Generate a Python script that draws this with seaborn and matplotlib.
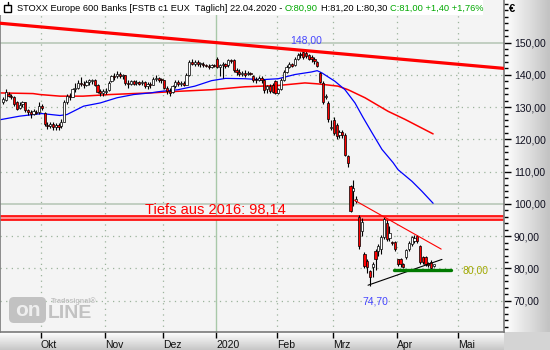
import numpy as np
import pandas as pd
import matplotlib
matplotlib.use("Agg")
import matplotlib.pyplot as plt
import seaborn as sns
from matplotlib.patches import Rectangle, FancyBboxPatch
from matplotlib.ticker import MultipleLocator, FuncFormatter

# ---------------- data ----------------
opens = [131.5, 132.3, 134.0, 133.5, 133.0, 131.5, 129.8, 131.0, 131.5, 129.0,
         128.5, 128.0, 128.6, 128.5, 130.3, 128.3, 124.5, 124.0, 124.8, 123.8,
         124.5, 124.0, 125.5, 131.5, 133.5, 133.2, 135.5, 136.0, 137.5, 137.3,
         137.0, 137.8, 138.0, 138.3, 137.0, 135.0, 134.5, 134.8, 135.2, 138.0,
         139.5, 139.5, 140.3, 139.5, 139.8, 137.5, 137.2, 138.0, 137.5, 137.8,
         137.5, 137.8, 136.5, 137.3, 137.0, 138.7, 138.9, 138.7, 138.3, 136.0,
         135.0, 134.8, 136.5, 137.8, 137.2, 137.5, 137.0, 139.8, 144.0, 143.5,
         144.0, 143.3, 143.5, 143.0, 142.8, 142.5, 143.0, 145.0, 142.5, 143.0,
         143.3, 143.0, 144.5, 144.7, 141.5, 141.0, 140.2, 140.5, 140.2, 140.5,
         139.5, 138.8, 138.5, 139.0, 138.5, 135.5, 136.5, 136.8, 138.0, 134.5,
         135.5, 138.5, 141.0, 142.5, 143.3, 143.0, 145.0, 146.5, 147.2, 146.8,
         146.0, 145.5, 145.0, 144.0, 140.7, 137.6, 133.0, 131.4, 123.5, 126.0,
         124.5, 121.5, 122.3, 121.5, 114.7, 105.4, 104.0, 101.0, 95.8, 91.5,
         84.4, 82.2, 79.1, 80.5, 85.3, 85.3, 86.0, 89.6, 94.0, 89.5,
         88.0, 88.2, 82.8, 82.8, 81.5, 83.7, 86.0, 87.5, 88.5, 90.2,
         86.8, 83.5, 83.7, 81.5, 82.0, 80.9]
highs = [133.0, 135.5, 134.8, 134.0, 133.5, 131.8, 131.5, 132.0, 131.7, 129.5,
         129.0, 129.5, 129.0, 131.5, 131.0, 128.5, 125.5, 125.5, 125.3, 125.0,
         125.0, 126.2, 132.3, 134.0, 134.5, 136.0, 137.5, 138.5, 139.3, 138.0,
         138.3, 138.8, 138.7, 138.8, 137.3, 135.5, 135.5, 135.8, 138.0, 140.0,
         140.5, 141.2, 140.8, 140.3, 140.0, 138.3, 138.5, 138.5, 138.3, 138.2,
         138.5, 138.0, 137.8, 137.8, 139.2, 139.8, 139.3, 139.0, 138.5, 136.5,
         135.8, 137.0, 138.3, 138.3, 138.0, 138.0, 140.5, 144.5, 145.0, 144.5,
         144.5, 144.0, 144.0, 143.5, 143.5, 143.5, 143.3, 145.5, 143.5, 144.0,
         143.8, 145.0, 145.0, 145.0, 142.0, 141.8, 141.2, 141.5, 141.3, 141.0,
         139.8, 139.3, 139.5, 139.5, 138.8, 137.0, 137.2, 137.5, 138.5, 136.0,
         139.0, 141.5, 143.0, 144.0, 143.8, 145.5, 146.8, 147.0, 148.0, 147.3,
         146.5, 146.0, 145.5, 144.3, 141.0, 138.0, 134.0, 131.8, 126.0, 127.0,
         125.0, 123.0, 123.0, 122.0, 115.3, 106.0, 107.5, 102.5, 96.5, 95.5,
         85.0, 82.8, 79.5, 82.0, 86.0, 87.5, 90.5, 96.0, 95.0, 93.0,
         88.5, 88.5, 83.0, 83.2, 81.8, 86.0, 88.5, 90.0, 90.3, 90.5,
         87.3, 84.0, 84.0, 82.0, 82.5, 81.2]
lows = [131.0, 132.0, 133.0, 132.5, 130.5, 129.0, 129.3, 130.0, 128.5, 127.5,
        126.5, 127.5, 127.8, 128.0, 129.0, 124.0, 123.2, 123.5, 122.8, 123.0,
        123.0, 123.5, 125.3, 131.0, 132.3, 133.0, 134.8, 135.5, 136.5, 136.0,
        136.5, 137.0, 137.3, 136.5, 134.5, 133.5, 133.5, 134.0, 135.0, 137.8,
        138.5, 139.0, 139.0, 138.8, 137.0, 136.0, 136.8, 137.0, 137.0, 136.8,
        136.8, 135.8, 135.5, 136.0, 136.8, 138.2, 137.8, 137.5, 135.5, 134.0,
        133.5, 134.5, 136.0, 136.7, 136.5, 136.5, 136.8, 139.5, 143.0, 142.8,
        142.8, 142.5, 142.5, 142.3, 141.8, 142.0, 142.3, 142.0, 139.5, 139.0,
        142.0, 142.5, 143.8, 141.0, 139.8, 139.5, 139.5, 139.3, 139.8, 139.8,
        137.8, 137.5, 138.0, 137.5, 134.5, 134.3, 134.5, 134.3, 134.0, 134.0,
        135.2, 138.0, 140.5, 142.0, 142.3, 142.8, 144.5, 145.3, 145.0, 145.2,
        144.5, 144.0, 143.5, 142.3, 137.5, 131.0, 132.5, 125.5, 123.0, 121.5,
        120.0, 120.5, 120.3, 115.0, 111.5, 97.5, 99.5, 100.3, 86.0, 90.0,
        80.0, 78.5, 74.7, 77.5, 79.5, 84.0, 84.5, 89.0, 88.5, 88.5,
        87.2, 85.5, 80.7, 80.5, 80.0, 83.0, 85.5, 87.0, 88.0, 88.0,
        81.5, 81.5, 80.8, 80.5, 79.8, 80.3]
closes = [132.5, 134.6, 133.6, 133.2, 131.0, 129.5, 130.8, 131.5, 129.0, 128.5,
          128.0, 128.8, 128.2, 130.5, 129.8, 124.8, 124.0, 124.8, 123.8, 124.5,
          123.8, 125.5, 131.5, 133.5, 133.0, 135.5, 135.8, 137.5, 137.2, 136.8,
          137.8, 138.3, 138.2, 137.0, 134.8, 134.5, 134.8, 135.0, 137.5, 139.5,
          139.2, 140.3, 139.5, 139.8, 137.5, 137.2, 138.0, 137.3, 137.8, 137.2,
          137.8, 136.5, 137.3, 136.8, 138.7, 138.9, 138.5, 138.3, 136.0, 135.0,
          134.5, 136.5, 137.8, 137.2, 137.5, 137.0, 139.8, 144.0, 143.5, 144.0,
          143.3, 143.5, 143.0, 142.8, 142.5, 143.0, 142.8, 142.5, 143.0, 143.3,
          142.8, 144.5, 144.3, 141.5, 140.8, 140.2, 140.5, 139.8, 140.6, 140.3,
          138.5, 138.3, 139.0, 138.3, 135.2, 136.5, 135.0, 134.8, 134.5, 135.5,
          138.5, 141.0, 142.5, 143.3, 142.8, 145.0, 146.3, 146.0, 145.5, 145.8,
          145.0, 144.8, 144.2, 142.8, 137.8, 131.5, 133.3, 126.2, 123.8, 122.0,
          121.0, 122.3, 121.5, 115.3, 112.8, 97.7, 105.0, 101.5, 86.8, 94.3,
          80.7, 80.3, 77.2, 81.5, 82.8, 86.8, 89.6, 95.2, 89.0, 91.0,
          87.8, 86.0, 81.3, 81.5, 80.5, 85.6, 88.0, 89.6, 89.3, 88.5,
          82.0, 82.0, 81.3, 81.2, 80.0, 81.0]

# month axis (trading-day index of the first day of each month)
month_pos = [14, 37, 58, 77, 99, 119, 142, 164]
month_labels = ["Okt", "Nov", "Dez", "2020", "Feb", "Mrz", "Apr", "Mai"]

# moving averages (trading-day index, value)
ma_blue_x = [-1, 6, 14, 20.5, 23, 29, 35, 41, 47, 53, 57, 63, 69, 75, 80, 87, 93,
             99, 105, 111, 113, 114.7, 119.4, 123, 126.6, 129.5, 132.7, 136.3,
             140.3, 142.1, 147.1, 150.7, 154.7]
ma_blue_y = [126.1, 127.2, 128.0, 127.4, 127.7, 130.3, 131.3, 132.9, 133.9, 134.4,
             134.9, 135.4, 136.5, 138.2, 138.9, 138.8, 138.5, 138.8, 140.1, 140.9,
             141.3, 140.6, 138.0, 135.4, 131.3, 126.8, 122.1, 116.9, 112.8, 110.6,
             107.0, 103.9, 100.2]
ma_red_x = [-1, 10.8, 13.3, 20.5, 28.8, 38.5, 46.8, 52.9, 63, 75.2, 87, 98.9,
            108.6, 113.3, 120.5, 124.1, 130.2, 138.5, 144.6, 149.3, 154.7]
ma_red_y = [134.4, 134.2, 133.9, 133.4, 133.4, 133.9, 134.2, 134.4, 134.9, 135.4,
            136.3, 136.7, 137.5, 137.2, 136.5, 135.4, 132.9, 128.7, 126.2, 124.1, 121.7]

# drawn lines
trend_x = [-1.1, 180.2]
trend_y = [156.0, 142.0]
resist_x = [126.3, 157.6]
resist_y = [101.2, 86.0]
support_x = [131.3, 157.9]
support_y = [74.8, 82.8]
level80_x = [140.6, 161.0]
level80_y = [79.5, 79.5]
band_low, band_high = 95.0, 96.2
hlines = [150.0, 100.0]
year_line = 77

title_parts = ["STOXX Europe 600 Banks [FSTB c1 EUX  Täglich] 22.04.2020 -",
               "O:80,90", "H:81,20 L:80,30", "C:81,00 +1,40 +1,76%"]

# ---------------- figure ----------------
sns.set_theme(style="white")
plt.rcParams['font.family'] = ['Liberation Sans', 'DejaVu Sans']

W, H = 550, 350
fig = plt.figure(figsize=(W / 100, H / 100), dpi=100)
fig.patch.set_facecolor('#f4f4f4')

# panels (right axis + bottom axis) with gradients
pr = fig.add_axes([504 / W, 18 / H, 46 / W, 332 / H], zorder=0)
pr.imshow(np.linspace(1, 0, 64)[None, :], cmap='gray', vmin=-3.2, vmax=1.0,
          aspect='auto', extent=[0, 1, 0, 1])
pr.set_axis_off()
pb = fig.add_axes([0, 0, 504 / W, 18 / H], zorder=0)
pb.imshow(np.linspace(1, 0, 32)[:, None], cmap='gray', vmin=-3.5, vmax=1.0,
          aspect='auto', extent=[0, 1, 0, 1])
pb.set_axis_off()
pc = fig.add_axes([504 / W, 0, 46 / W, 18 / H], zorder=0)
pc.set_facecolor('#d4d4d4')
pc.set_xticks([]); pc.set_yticks([])
for s in pc.spines.values():
    s.set_visible(False)

ax = fig.add_axes([0, 18 / H, 504 / W, 332 / H], zorder=2)
ax.set_facecolor('#f4f4f4')

df = pd.DataFrame({"open": opens, "high": highs, "low": lows, "close": closes})
df["i"] = np.arange(len(df))
up = df["close"] >= df["open"]

# grid
for p in month_pos:
    if p == year_line:
        ax.axvline(p - 0.4, color='#a8c8a8', lw=1.0, zorder=0)
    else:
        ax.axvline(p - 0.4, color='#9cb49c', lw=0.9, ls=(0, (1, 3.5)), zorder=0)
for v in range(70, 160, 10):
    if v in hlines:
        ax.axhline(v, color='#b4c4b4', lw=1.1, zorder=0)
    else:
        ax.axhline(v, color='#9cb49c', lw=0.9, ls=(0, (1, 3.5)), zorder=0)

# support band "Tiefs aus 2016"
ax.axhspan(band_low, band_high, color='#ff9090', lw=0, zorder=1)
ax.axhline(band_low, color='#ff0000', lw=1.2, zorder=1)
ax.axhline(band_high, color='#ff0000', lw=1.2, zorder=1)

# moving averages
sns.lineplot(x=ma_red_x, y=ma_red_y, ax=ax, color='#ff0000', lw=1.1, zorder=2,
             estimator=None, sort=False)
sns.lineplot(x=ma_blue_x, y=ma_blue_y, ax=ax, color='#0000ff', lw=0.9, zorder=2,
             estimator=None, sort=False)

# candles
ax.vlines(df["i"], df["low"], df["high"], color='black', lw=0.8, zorder=3)
body_low = np.minimum(df["open"], df["close"])
body_h = np.maximum(np.abs(df["close"] - df["open"]), 0.35)
ax.bar(df["i"], body_h, bottom=body_low, width=0.8,
       color=np.where(up, '#ffffff', '#ff0000'), edgecolor='black',
       linewidth=0.5, zorder=4)

# drawn trend lines
sns.lineplot(x=trend_x, y=trend_y, ax=ax, color='#ff0000', lw=2.3, zorder=5)
sns.lineplot(x=resist_x, y=resist_y, ax=ax, color='#ff0000', lw=0.8, zorder=5)
sns.lineplot(x=support_x, y=support_y, ax=ax, color='#000000', lw=0.8, zorder=5)
sns.lineplot(x=level80_x, y=level80_y, ax=ax, color='#007a00', lw=2.4, zorder=5)

# annotations
ax.text(51, 96.9, "Tiefs aus 2016: 98,14", color='#ff0000', fontsize=10.5,
        ha='left', va='baseline', zorder=6)
ax.text(109, 150.6, "148,00", color='#4646ff', fontsize=7.5, ha='center',
        va='center', zorder=6)
ax.text(133.8, 69.9, "74,70", color='#4646ff', fontsize=7.5, ha='center',
        va='center', zorder=6)
ax.text(170.1, 79.4, "80,00", color='#a0a800', fontsize=7.5, ha='center',
        va='center', zorder=6)

# axes styling
ax.set_xlim(-1.08, 180.2)
ax.set_ylim(60.3, 163.2)
ax.yaxis.tick_right()
ax.set_yticks(range(70, 160, 10))
ax.yaxis.set_minor_locator(MultipleLocator(2))
ax.yaxis.set_major_formatter(FuncFormatter(lambda v, p: f"{v:.2f}".replace('.', ',')))
ax.tick_params(axis='y', which='major', right=True, length=5, width=1, color='black',
               labelsize=7.5, pad=2, labelcolor='#101020')
ax.tick_params(axis='y', which='minor', right=True, length=3, width=1, color='black')
ax.set_xticks([p - 0.4 for p in month_pos])
ax.set_xticklabels(month_labels)
ax.tick_params(axis='x', which='major', bottom=True, length=4, width=1, color='black',
               labelsize=7.5, pad=2, labelcolor='#101010')
for lab in ax.get_xticklabels():
    lab.set_horizontalalignment('left')
ax.set_xlabel(""); ax.set_ylabel("")
for side in ['left', 'bottom', 'right']:
    ax.spines[side].set_visible(True)
    ax.spines[side].set_color('#7a7a7a')
    ax.spines[side].set_linewidth(1.2)
ax.spines['top'].set_visible(False)

# overlay in pixel coordinates: header, currency sign, logo
ov = fig.add_axes([0, 0, 1, 1], zorder=10)
ov.set_xlim(0, W); ov.set_ylim(H, 0)
ov.set_axis_off()
ov.patch.set_alpha(0)
ov.add_patch(Rectangle((0, 0), 483, 14.5, color='white', lw=0))
ov.add_patch(Rectangle((4, 5), 7, 7, facecolor='white', edgecolor='black', lw=1.0))
ov.plot([7.5, 7.5], [2, 5], color='black', lw=1.0)
ov.text(509, 9, "€", fontsize=8, fontweight='bold', color='black', va='center', ha='left')

fig.canvas.draw()
renderer = fig.canvas.get_renderer()
colors = ['#000000', '#00a800', '#000000', '#00a800']
fs = 7.0
tmp = [ov.text(0, 9, t, fontsize=fs, va='center') for t in title_parts]
sp = ov.text(0, 9, "a a", fontsize=fs); sp2 = ov.text(0, 9, "aa", fontsize=fs)
wsum = sum(t.get_window_extent(renderer).width for t in tmp)
space = sp.get_window_extent(renderer).width - sp2.get_window_extent(renderer).width
total = wsum + 3 * space
for t in tmp + [sp, sp2]:
    t.remove()
fs = fs * 465.0 / total
x = 17
for t, c in zip(title_parts, colors):
    tx = ov.text(x, 8.5, t, fontsize=fs, color=c, va='center', ha='left')
    x += tx.get_window_extent(renderer).width + space * fs / 7.0

# watermark logo
ov.add_patch(FancyBboxPatch((9, 297), 37, 26, boxstyle="round,pad=0,rounding_size=5",
                            facecolor='#c2c2c2', edgecolor='none'))
ov.text(27.5, 311, "on", fontsize=15, fontweight='bold', color='#eeeeee',
        ha='center', va='center')
ov.text(48, 314, "LINE", fontsize=14, fontweight='bold', color='#c2c2c2',
        ha='left', va='center')
ov.text(51, 301, "Tradesignal®", fontsize=5.2, fontweight='bold', color='#c2c2c2',
        ha='left', va='center')

fig.savefig("out.png", dpi=100, facecolor=fig.get_facecolor())
